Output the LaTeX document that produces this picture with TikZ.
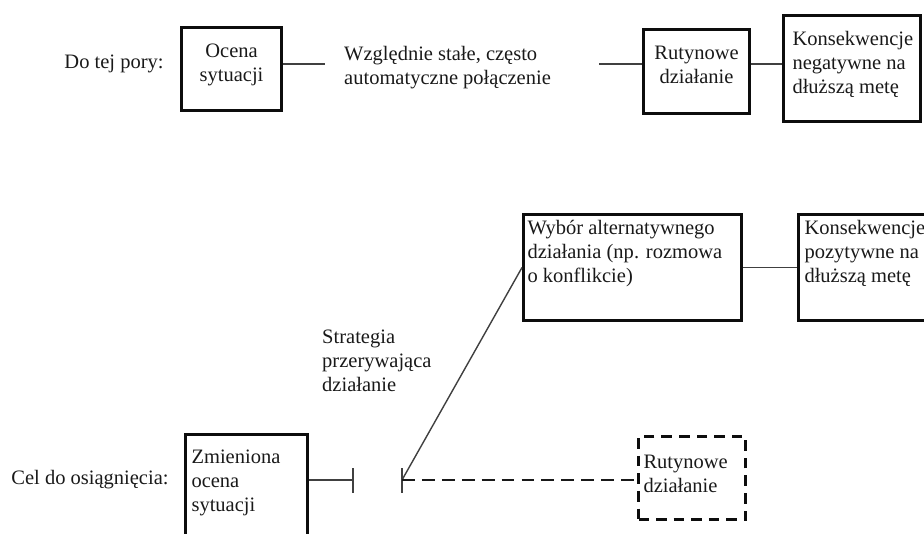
\documentclass[tikz,border=0pt]{standalone}
\usepackage{fontspec}
\setmainfont{Liberation Serif}

% text set at the top of a fixed box: width, height, alignment, top gap, text
\newcommand{\celltext}[5]{\parbox[c][#2][t]{#1}{#3\vspace*{#4}\strut #5}}

\tikzset{
  box/.style={draw=black!95, line width=2.6pt, inner ysep=0pt, anchor=north west},
  dashbox/.style={box, dash pattern=on 9pt off 6pt},
  link/.style={draw=black!75, line width=1.2pt},
  dashlink/.style={draw=black!90, line width=1.6pt, dash pattern=on 11pt off 6pt},
  txt/.style={align=left, inner sep=0pt}
}

\begin{document}
\begin{tikzpicture}[x=0.03cm, y=-0.03cm, font=\fontsize{17.5}{20.5}\selectfont, text=black!90]

\useasboundingbox (0,0) rectangle (924,534);
\clip (0,0) rectangle (924,534);

% Top row: so far
\node[txt] (sofar) at (114,64) {Do tej pory:};

\node[box, inner xsep=0pt] (ocena) at (180,26)
  {\celltext{3.0cm}{2.49cm}{\centering}{11pt}{Ocena\\sytuacji}};

\node[txt, anchor=west] (wzgl) at (344,68)
  {Względnie stałe, często\\automatyczne połączenie};

\node[box, inner xsep=0pt] (rut) at (642,28)
  {\celltext{3.18cm}{2.52cm}{\centering}{11pt}{Rutynowe\\działanie}};

\node[box, inner xsep=0.27cm] (konsneg) at (782,14)
  {\celltext{3.57cm}{3.18cm}{\raggedright}{11pt}{Konsekwencje\\negatywne na\\dłuższą metę}};

% Top row connectors
\coordinate (wzglout) at (599,64);
\draw[link] (ocena.east |- 0,64) -- (325,64);
\draw[link] (wzglout) -- (wzglout -| rut.west);
\draw[link] (rut.east |- wzglout) -- (wzglout -| konsneg.west);

% Bottom part: goal
\node[txt] (goal) at (90,480) {Cel do osiągnięcia:};

\node[box, inner xsep=0.18cm] (zmien) at (184,433)
  {\celltext{3.30cm}{3.9cm}{\raggedright}{10.3pt}{Zmieniona\\ocena\\sytuacji}};

\node[box, inner xsep=0.12cm] (wybor) at (522,213)
  {\celltext{6.30cm}{3.18cm}{\raggedright}{2.7pt}{Wybór alternatywnego\\działania (np. rozmowa\\o konflikcie)}};

\node[box, inner xsep=0.18cm] (konspoz) at (797,213)
  {\celltext{4.14cm}{3.18cm}{\raggedright}{2.7pt}{Konsekwencje\\pozytywne na\\dłuższą metę}};

\node[dashbox, inner xsep=0.15cm] (rutd) at (637,435)
  {\celltext{2.91cm}{2.49cm}{\raggedright}{12.8pt}{Rutynowe\\działanie}};

\node[txt, anchor=west] (strat) at (322,361)
  {Strategia\\przerywająca\\działanie};

% Interrupting bars
\coordinate (stopa) at (353,480);
\coordinate (stopb) at (402,480);
\draw[link] (stopa) ++(0,-12) -- ++(0,25);
\draw[link] (stopb) ++(0,-12) -- ++(0,25);

% Bottom connectors
\draw[link] (zmien.east |- stopa) -- (stopa);
\draw[link] (stopb) -- (wybor.west);
\draw[link] (wybor.east) -- (konspoz.west);
\draw[dashlink] (stopb) -- (stopb -| rutd.west);

\end{tikzpicture}
\end{document}
